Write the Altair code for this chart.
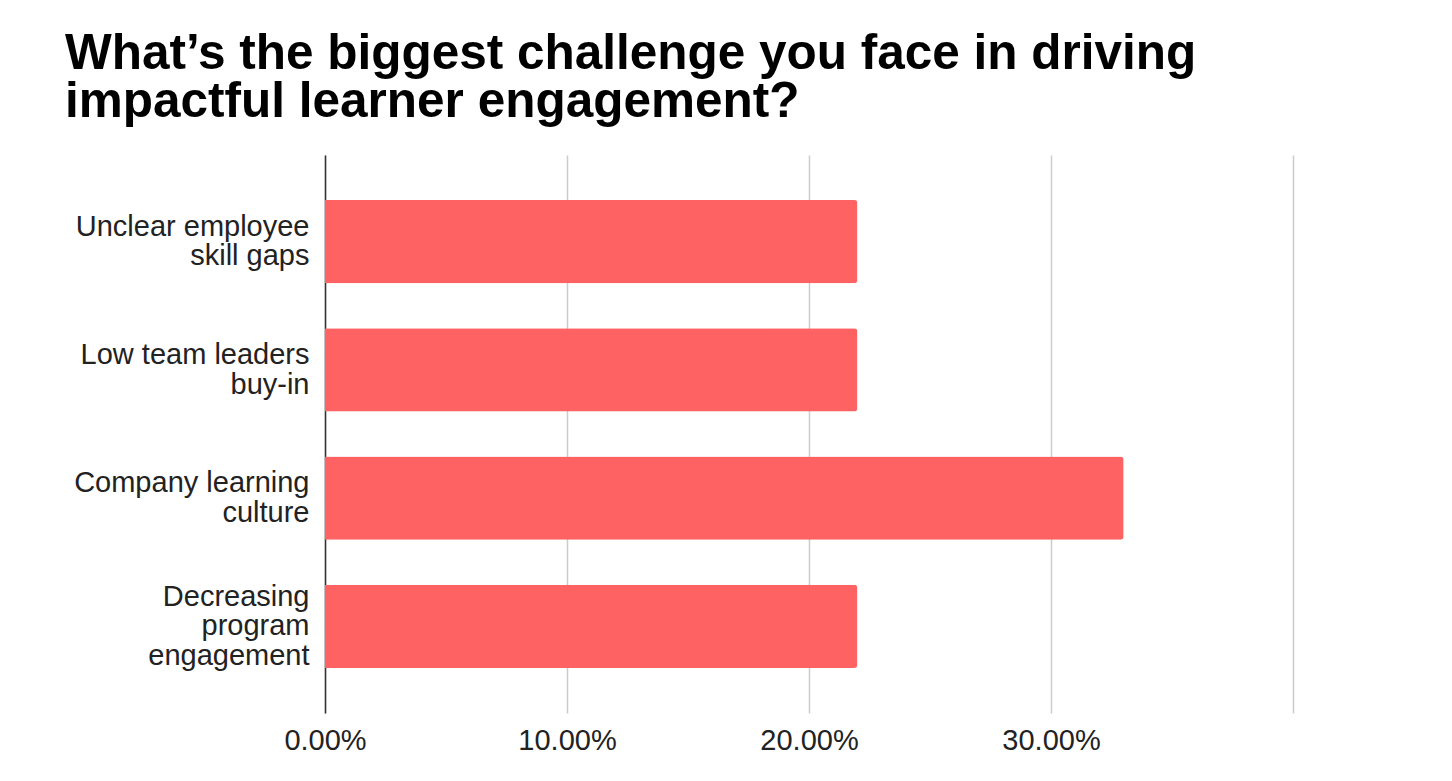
import pandas as pd
import altair as alt

# Survey answers (share of respondents)
challenges = [
    "Unclear employee|skill gaps",
    "Low team leaders|buy-in",
    "Company learning|culture",
    "Decreasing|program|engagement",
]
shares = [0.22, 0.22, 0.33, 0.22]
x_ticks = [0.0, 0.1, 0.2, 0.3, 0.4]

df = pd.DataFrame({"challenge": challenges, "share": shares})

chart = alt.Chart(df).mark_bar(color="#ff6262", cornerRadiusEnd=3).encode(
    alt.X(
        "share:Q",
        scale=alt.Scale(domain=[0, 0.4], nice=False),
        axis=alt.Axis(
            values=x_ticks,
            labelExpr="datum.value < 0.39 ? format(datum.value, '.2%') : ''",
            title=None,
            domain=False,
            ticks=False,
            grid=True,
            gridColor="#cccccc",
            gridWidth=1.5,
            labelFontSize=29,
            labelFont="Liberation Sans",
            labelColor="#222222",
            labelPadding=13,
            labelBaseline="top",
            labelFlush=False,
        ),
    ),
    alt.Y(
        "challenge:N",
        sort=challenges,
        scale=alt.Scale(paddingInner=0.35, paddingOuter=0.35),
        axis=alt.Axis(
            title=None,
            labelExpr="split(datum.label, '|')",
            # multi-line labels start at the band centre; shift them up to centre the block
            labelOffset=alt.condition(
                "length(split(datum.value, '|')) > 2", alt.value(-29.5), alt.value(-14.75)
            ),
            ticks=False,
            domain=True,
            domainColor="#333333",
            domainWidth=1.5,
            labelFontSize=29,
            labelLineHeight=29.5,
            labelFont="Liberation Sans",
            labelColor="#222222",
            labelPadding=16,
            labelLimit=400,
        ),
    ),
).properties(
    width=968,
    height=558,
    padding={"left": 57, "top": 20, "right": 20, "bottom": 10},
    title=alt.TitleParams(
        text=["What’s the biggest challenge you face in driving",
              "impactful learner engagement?"],
        anchor="start",
        frame="group",
        dx=-260,
        offset=28,
        font="Liberation Sans",
        fontSize=49.5,
        lineHeight=48,
        fontWeight="bold",
        color="#000000",
    ),
).configure_view(stroke=None)

chart.save("out.html", embed_options={"renderer": "svg", "actions": False})
